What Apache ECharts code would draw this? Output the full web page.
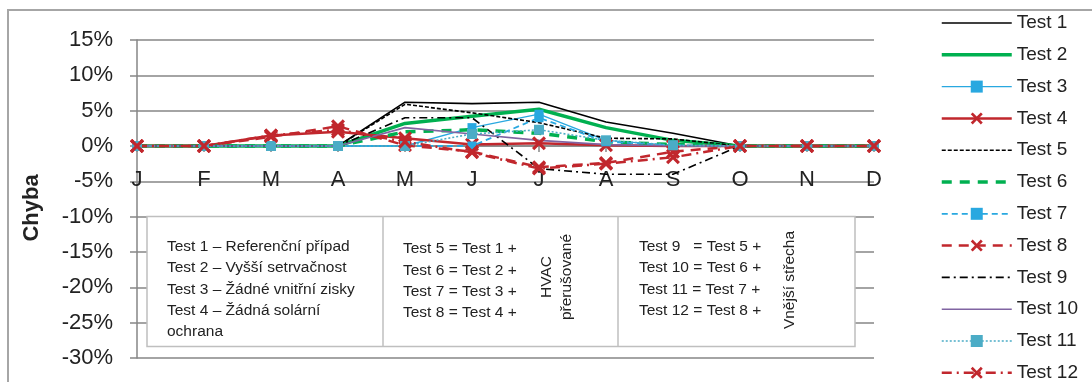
<!DOCTYPE html>
<html>
<head>
<meta charset="utf-8">
<script src="https://cdn.jsdelivr.net/npm/echarts@6/dist/echarts.min.js"></script>
<style>
  html, body { margin: 0; padding: 0; background: #fff; }
  #chart { width: 1092px; height: 382px; }
</style>
</head>
<body>
<div id="chart"></div>
<script>
// měsíce
var months = ['J', 'F', 'M', 'A', 'M', 'J', 'J', 'A', 'S', 'O', 'N', 'D']
var yTicks = [-30, -25, -20, -15, -10, -5, 0, 5, 10, 15]

// chyba v %
var test1 = [0, 0, 0, 0, 6.2, 6.0, 6.2, 3.4, 1.8, 0, 0, 0]
var test2 = [0, 0, 0, 0, 3.2, 4.2, 5.2, 2.6, 0.8, 0, 0, 0]
var test3 = [0, 0, 0, 0, 0, 2.6, 4.5, 0.8, 0.1, 0, 0, 0]
var test4 = [0, 0, 1.5, 2.0, 1.1, 0.2, 0.4, 0.1, 0.0, 0, 0, 0]
var test5 = [0, 0, 0, 0, 5.9, 4.7, 3.3, 1.1, 1.0, 0, 0, 0]
var test6 = [0, 0, 0, 0, 2.0, 2.3, 1.8, 0.6, 0.2, 0, 0, 0]
var test7 = [0, 0, 0, 0, 0, 0, 4.0, 0.6, 0.1, 0, 0, 0]
var test8 = [0, 0, 1.3, 2.8, 0.1, -0.8, -3.0, -2.4, -0.8, 0, 0, 0]
var test9 = [0, 0, 0, 0, 4.0, 4.0, -3.2, -4.0, -4.0, 0, 0, 0]
var test10 = [0, 0, 0, 0, 2.6, 1.7, 0.8, 0.2, 0.0, 0, 0, 0]
var test11 = [0, 0, 0, 0, 0, 1.7, 2.3, 0.8, 0.1, 0, 0, 0]
var test12 = [0, 0, 1.5, 2.3, 0.6, -0.9, -3.2, -2.5, -1.6, 0, 0, 0]

var boxLeft = [
  'Test 1 – Referenční případ',
  'Test 2 – Vyšší setrvačnost',
  'Test 3 – Žádné vnitřní zisky',
  'Test 4 – Žádná solární',
  'ochrana'
]
var boxMid = ['Test 5 = Test 1 +', 'Test 6 = Test 2 +', 'Test 7 = Test 3 +', 'Test 8 = Test 4 +']
var boxRight = ['Test 9   = Test 5 +', 'Test 10 = Test 6 +', 'Test 11 = Test 7 +', 'Test 12 = Test 8 +']

var FONT = 'Liberation Sans'
var RED = '#c1272d'
var BLUE = '#29a8e0'
var TEAL = '#4bacc6'
var GREEN = '#00b050'
var CROSS = 'path://M0,1.6 L1.6,0 L5,3.4 L8.4,0 L10,1.6 L6.6,5 L10,8.4 L8.4,10 L5,6.6 L1.6,10 L0,8.4 L3.4,5 Z'

var GRID_TOP = 40
var GRID_BOTTOM = 24
var plotH = 382 - GRID_TOP - GRID_BOTTOM
// osa x leží na nule
var zeroOffset = -plotH * (0 - yTicks[0]) / (yTicks[yTicks.length - 1] - yTicks[0])

function line (name, data, color, width, type, symbol, symbolSize) {
  return {
    name: name,
    type: 'line',
    data: data,
    symbol: symbol || 'none',
    symbolSize: symbolSize || 0,
    showSymbol: !!symbol,
    animation: false,
    itemStyle: { color: color },
    lineStyle: { color: color, width: width, type: type || 'solid' }
  }
}

var series = [
  line('Test 1', test1, '#000000', 1.6),
  line('Test 2', test2, GREEN, 3.5),
  line('Test 3', test3, BLUE, 1.3, 'solid', 'rect', 9),
  line('Test 4', test4, RED, 2.5, 'solid', CROSS, 14),
  line('Test 5', test5, '#000000', 1.6, [4, 2]),
  line('Test 6', test6, GREEN, 3.5, [10, 8]),
  line('Test 7', test7, BLUE, 1.8, [6, 4], 'rect', 9),
  line('Test 8', test8, RED, 2.5, [10, 7], CROSS, 14),
  line('Test 9', test9, '#000000', 1.6, [8, 4, 2, 4]),
  line('Test 10', test10, '#8064a2', 1.6),
  line('Test 11', test11, TEAL, 1.6, [2, 2], 'rect', 10),
  line('Test 12', test12, RED, 2.5, [10, 5, 2, 5], CROSS, 14)
]

var legendData = series.map(function (s) {
  var item = {
    name: s.name,
    lineStyle: { width: s.lineStyle.width, type: s.lineStyle.type, color: s.lineStyle.color }
  }
  if (!s.showSymbol) item.itemStyle = { opacity: 0 }
  return item
})

// textový rámeček
var graphics = [
  { type: 'rect', shape: { x: 8, y: 10, width: 1100, height: 400 }, style: { fill: 'none', stroke: '#a6a6a6', lineWidth: 2 }, z: -1, silent: true },
  { type: 'text', x: 32, y: 208, rotation: Math.PI / 2, style: { text: 'Chyba', font: 'bold 22px ' + FONT, fill: '#222', align: 'center', verticalAlign: 'middle' } },
  { type: 'rect', shape: { x: 147, y: 216.5, width: 708, height: 130 }, style: { fill: '#fff', stroke: '#bfbfbf', lineWidth: 1.5 }, z: 10 },
  { type: 'line', shape: { x1: 383, y1: 216.5, x2: 383, y2: 346.5 }, style: { stroke: '#bfbfbf', lineWidth: 1.5 }, z: 11 },
  { type: 'line', shape: { x1: 618, y1: 216.5, x2: 618, y2: 346.5 }, style: { stroke: '#bfbfbf', lineWidth: 1.5 }, z: 11 },
  { type: 'text', x: 557, y: 277, rotation: Math.PI / 2, style: { text: 'HVAC\npřerušované', font: '15.5px ' + FONT, fill: '#222', align: 'center', verticalAlign: 'middle', lineHeight: 20 }, z: 12 },
  { type: 'text', x: 790, y: 280, rotation: Math.PI / 2, style: { text: 'Vnější střecha', font: '15.5px ' + FONT, fill: '#222', align: 'center', verticalAlign: 'middle' }, z: 12 }
]
boxLeft.forEach(function (t, i) {
  graphics.push({ type: 'text', x: 167, y: 247 + i * 21.2, style: { text: t, font: '15.5px ' + FONT, fill: '#222', verticalAlign: 'middle' }, z: 12 })
})
boxMid.forEach(function (t, i) {
  graphics.push({ type: 'text', x: 403, y: 249 + i * 21.3, style: { text: t, font: '15.5px ' + FONT, fill: '#222', verticalAlign: 'middle' }, z: 12 })
})
boxRight.forEach(function (t, i) {
  graphics.push({ type: 'text', x: 639, y: 247 + i * 21.2, style: { text: t, font: '15.5px ' + FONT, fill: '#222', verticalAlign: 'middle' }, z: 12 })
})

var chart = echarts.init(document.getElementById('chart'))
chart.setOption({
  backgroundColor: '#fff',
  animation: false,
  textStyle: { fontFamily: FONT },
  grid: { left: 137, right: 218, top: GRID_TOP, bottom: GRID_BOTTOM },
  legend: {
    orient: 'vertical',
    left: 935,
    top: 8,
    height: 400,
    itemWidth: 70,
    itemHeight: 15,
    itemGap: 11.8,
    data: legendData,
    textStyle: { fontSize: 19, color: '#222', lineHeight: 20, fontFamily: FONT }
  },
  xAxis: {
    type: 'category',
    data: months,
    boundaryGap: false,
    offset: zeroOffset,
    axisLine: { onZero: false, lineStyle: { color: '#868686', width: 1.5 } },
    axisTick: { show: true, length: 6, lineStyle: { color: '#868686', width: 1.5 } },
    axisLabel: { fontSize: 22, color: '#222', margin: 23, fontFamily: FONT },
    splitLine: { show: false }
  },
  yAxis: {
    type: 'value',
    min: yTicks[0],
    max: yTicks[yTicks.length - 1],
    interval: 5,
    axisLine: { show: true, lineStyle: { color: '#868686', width: 1.5 } },
    axisTick: { show: true, length: 7, lineStyle: { color: '#868686', width: 1.5 } },
    axisLabel: { fontSize: 22, color: '#222', margin: 24, formatter: '{value}%', fontFamily: FONT },
    splitLine: { show: true, lineStyle: { color: '#868686', width: 1.5 } }
  },
  graphic: graphics,
  series: series
})
</script>
</body>
</html>
